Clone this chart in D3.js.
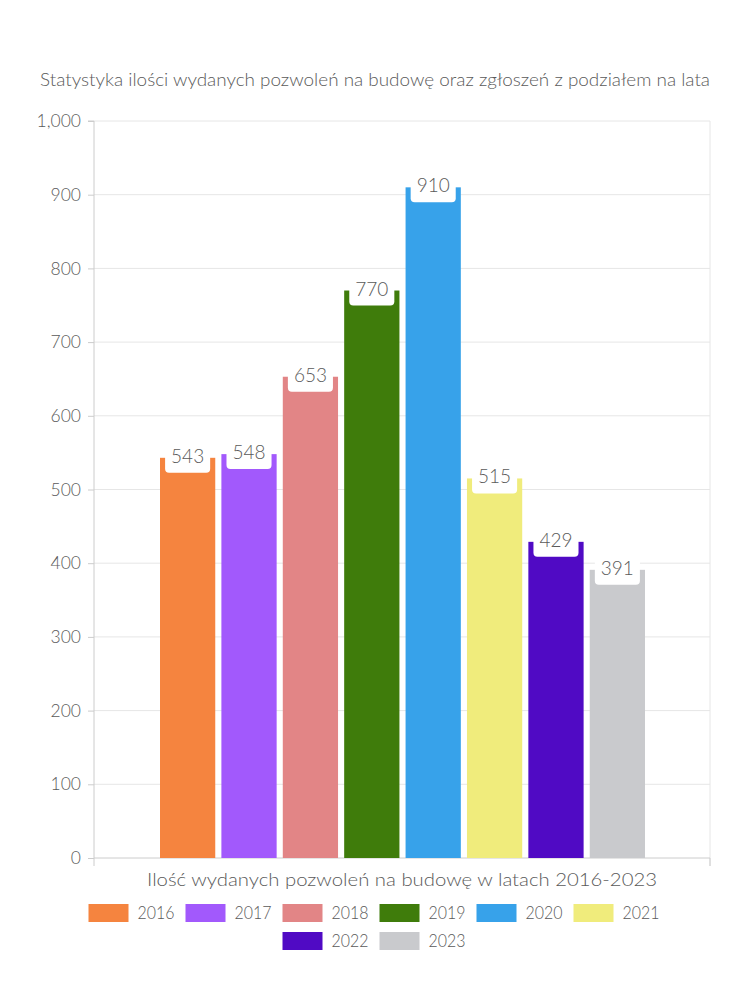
<!DOCTYPE html>
<html><head><meta charset="utf-8">
<script src="https://cdn.jsdelivr.net/npm/d3@7"></script>
<style>body{margin:0;background:#fff}svg{display:block}text{font-family:Lato,"Noto Sans",sans-serif;font-weight:300;fill:#5a5a5a}</style>
</head><body><svg id="c" width="750" height="1000"></svg>
<script>
const years = ["2016","2017","2018","2019","2020","2021","2022","2023"];
const values = [543,548,653,770,910,515,429,391];
const colors = ["#f5843f","#a259fc","#e28586","#3f7c0b","#37a2ea","#f0ec7c","#500ac4","#c9cacd"];
const yTicks = [0,100,200,300,400,500,600,700,800,900,1000];
const title = "Statystyka ilości wydanych pozwoleń na budowę oraz zgłoszeń z podziałem na lata";
const xTitle = "Ilość wydanych pozwoleń na budowę w latach 2016-2023";

const svg = d3.select("#c");
const L=94, R=710, T=121, B=858;
const y = d3.scaleLinear().domain([0,1000]).range([B,T]);
const x = d3.scaleBand().domain(years).range([160,645]).paddingInner(0.1);

svg.append("text").attr("x",375).attr("y",86).attr("text-anchor","middle")
  .attr("font-size",17).attr("textLength",670).attr("lengthAdjust","spacingAndGlyphs").text(title);

svg.append("g").selectAll("line").data(yTicks.filter(d=>d>0)).join("line")
  .attr("x1",L).attr("x2",R).attr("y1",d=>y(d)).attr("y2",d=>y(d)).attr("stroke","#e6e6e6");
svg.append("line").attr("x1",R).attr("x2",R).attr("y1",T).attr("y2",B+8).attr("stroke","#e6e6e6");

const ya = svg.append("g").attr("transform",`translate(${L},0)`)
  .call(d3.axisLeft(y).tickValues(yTicks).tickSize(6).tickPadding(7).tickFormat(d3.format(",")));
ya.select(".domain").attr("stroke","#cccccc").attr("d",`M-6,${T}H0V${B}`);
ya.selectAll(".tick line").attr("stroke","#cccccc");
ya.selectAll(".tick text").attr("font-size",17.5).attr("font-family",null).attr("fill",null);

svg.append("line").attr("x1",L).attr("x2",R).attr("y1",B).attr("y2",B).attr("stroke","#cccccc");
svg.append("line").attr("x1",L).attr("x2",L).attr("y1",B).attr("y2",B+8).attr("stroke","#cccccc");
svg.append("line").attr("x1",R).attr("x2",R).attr("y1",B).attr("y2",B+8).attr("stroke","#cccccc");

const data = years.map((k,i)=>({k,v:values[i],c:colors[i]}));
svg.append("g").selectAll("rect").data(data).join("rect")
  .attr("x",d=>x(d.k)).attr("width",x.bandwidth()).attr("y",d=>y(d.v)).attr("height",d=>B-y(d.v)).attr("fill",d=>d.c);

svg.append("g").selectAll("g").data(data).join("g").each(function(d){
  const g=d3.select(this);
  const cx=x(d.k)+x.bandwidth()/2, ty=y(d.v);
  const r=g.append("rect").attr("fill","#fff").attr("rx",4);
  const t=g.append("text").attr("x",cx).attr("y",ty+5).attr("text-anchor","middle").attr("font-size",19).text(d.v);
  const w=t.node().getComputedTextLength()+12;
  r.attr("x",cx-w/2).attr("width",w).attr("y",ty-14).attr("height",29);
});

svg.append("text").attr("x",402).attr("y",886).attr("text-anchor","middle").attr("font-size",18)
  .attr("textLength",510).attr("lengthAdjust","spacingAndGlyphs").text(xTitle);

// legend (flow layout, centred rows)
const rows=[data.slice(0,6),data.slice(6)];
const lw=37;
rows.forEach((row,ri)=>{
  const yy=904+ri*28;
  const g=svg.append("g");
  let cx=0;
  row.forEach(d=>{
    g.append("rect").attr("x",cx).attr("y",yy).attr("width",40).attr("height",18).attr("fill",d.c);
    g.append("text").attr("x",cx+49).attr("y",yy+15).attr("font-size",18)
      .attr("textLength",lw).attr("lengthAdjust","spacingAndGlyphs").text(d.k);
    cx+=49+lw+11;
  });
  const total=cx-11;
  g.attr("transform",`translate(${374-total/2},0)`);
});
</script></body></html>
